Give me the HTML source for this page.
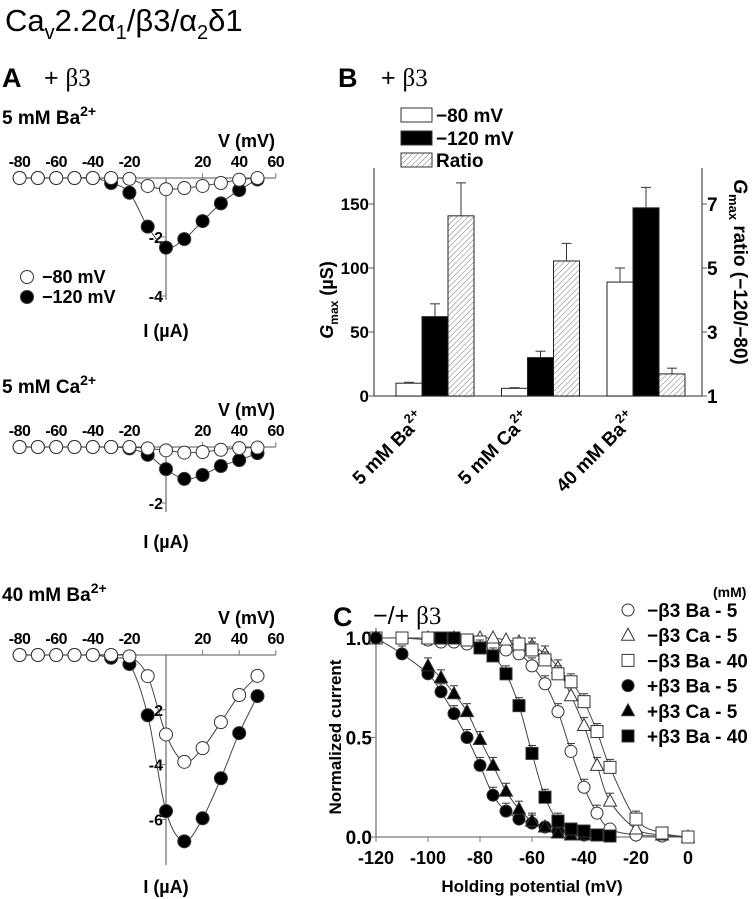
<!DOCTYPE html>
<html><head><meta charset="utf-8"><style>
body{margin:0;background:#fff}
svg{display:block;font-family:"Liberation Sans",Arial,sans-serif}
.b{font-weight:bold}
</style></head><body>
<svg id="fig" width="755" height="899" viewBox="0 0 755 899">
<defs>
<pattern id="hatch" patternUnits="userSpaceOnUse" width="4" height="4" patternTransform="rotate(45)">
<rect width="4" height="4" fill="#fff"/><line x1="0" y1="0" x2="0" y2="4" stroke="#777" stroke-width="1"/>
</pattern>
</defs>
<text x="5" y="31" font-size="31">Ca<tspan font-size="20" dy="8">v</tspan><tspan dy="-8">2.2α</tspan><tspan font-size="20" dy="8">1</tspan><tspan dy="-8">/β3/α</tspan><tspan font-size="20" dy="8">2</tspan><tspan dy="-8">δ1</tspan></text>
<text x="2" y="87" font-size="27" class="b">A</text>
<text x="44" y="86" font-size="25">+ <tspan font-family="Liberation Serif">β3</tspan></text>
<text x="338" y="87" font-size="27" class="b">B</text>
<text x="381" y="86" font-size="25">+ <tspan font-family="Liberation Serif">β3</tspan></text>
<text x="333" y="626" font-size="27" class="b">C</text>
<text x="373" y="624" font-size="25">−/+ <tspan font-family="Liberation Serif">β3</tspan></text>
<g id="gA"></g><g id="gB"></g><g id="gC"></g>
</svg>
<script>
const NS='http://www.w3.org/2000/svg';
function mk(parent,tag,attrs,txt){const e=document.createElementNS(NS,tag);for(const k in attrs)e.setAttribute(k,attrs[k]);if(txt!==undefined)e.textContent=txt;parent.appendChild(e);return e;}
function smooth(pts){if(pts.length<2)return'';let d='M'+pts[0][0]+','+pts[0][1];for(let i=0;i<pts.length-1;i++){const p0=pts[i-1]||pts[i],p1=pts[i],p2=pts[i+1],p3=pts[i+2]||p2;const c1x=p1[0]+(p2[0]-p0[0])/6,c1y=p1[1]+(p2[1]-p0[1])/6,c2x=p2[0]-(p3[0]-p1[0])/6,c2y=p2[1]-(p3[1]-p1[1])/6;d+=' C'+c1x+','+c1y+' '+c2x+','+c2y+' '+p2[0]+','+p2[1];}return d;}

/* ---------- Panel A data ---------- */
const ivVoltages=[-80,-70,-60,-50,-40,-30,-20,-10,0,10,20,30,40,50];
const ivBa5Open=[0,0,0,0,0,0,-0.03,-0.27,-0.38,-0.34,-0.27,-0.17,-0.06,0];
const ivBa5Filled=[0,0,0,0,0,-0.17,-0.5,-1.65,-2.36,-2.07,-1.46,-0.86,-0.41,-0.05];
const ivCa5Open=[0,0,0,0,0,0,0,-0.05,-0.12,-0.2,-0.18,-0.1,-0.04,-0.02];
const ivCa5Filled=[0,0,0,0,0,0,-0.05,-0.28,-0.79,-1.14,-1.0,-0.68,-0.47,-0.22];
const ivBa40Open=[0,0,0,0,0,0,-0.05,-0.77,-2.9,-3.9,-3.4,-2.45,-1.46,-0.76];
const ivBa40Filled=[0,0,0,0,0,-0.1,-0.33,-2.2,-5.7,-6.8,-5.96,-4.5,-2.85,-1.5];
const ivXTicks=[-80,-60,-40,-20,20,40,60];

const gA=document.getElementById('gA');
function ivPanel(cfg){
  const g=mk(gA,'g',{});
  
  
  const x=v=>166+v*1.83, y=i=>cfg.y0-i*cfg.k;
  const t=mk(g,'text',{x:2,y:cfg.y0-54,'font-size':19,class:'b'});
  
  
  t.innerHTML=cfg.title+'<tspan font-size="14" dy="-8">2+</tspan>';
  const vl=mk(g,'text',{x:218,y:cfg.y0-31,'font-size':18,class:'b'},'V (mV)');
  
  
  mk(g,'line',{x1:x(-80),y1:cfg.y0,x2:x(60),y2:cfg.y0,stroke:'#777','stroke-width':1.3});
  mk(g,'line',{x1:166,y1:cfg.y0,x2:166,y2:cfg.yEnd,stroke:'#777','stroke-width':1.3});
  ivXTicks.forEach(v=>{mk(g,'line',{x1:x(v),y1:cfg.y0,x2:x(v),y2:cfg.y0-5,stroke:'#777'});
    const tl=mk(g,'text',{x:x(v),y:cfg.y0-11,'font-size':16,class:'b','text-anchor':'middle','letter-spacing':'-0.5'},String(v));
    
    });
  cfg.yTicks.forEach(v=>{mk(g,'line',{x1:162,y1:y(v),x2:166,y2:y(v),stroke:'#777'});
    const tl=mk(g,'text',{x:163,y:y(v)+6,'font-size':16,class:'b','text-anchor':'end'},String(v));
    
    });
  const il=mk(g,'text',{x:166,y:cfg.iy,'font-size':18,class:'b','text-anchor':'middle'},'I (µA)');
  
  
  [[cfg.filled,'#000'],[cfg.open,'#fff']].forEach(([arr,fill])=>{
    const pts=ivVoltages.map((v,i)=>[x(v),y(arr[i])]);
    mk(g,'path',{d:smooth(pts),fill:'none',stroke:'#444','stroke-width':1});
    pts.forEach((p,i)=>{
      const c=mk(g,'circle',{cx:p[0],cy:p[1],r:6.5,fill:fill,stroke:'#333','stroke-width':1});
      
      
    });
  });
}
ivPanel({name:'iv-5mm-ba',title:'5 mM Ba',y0:178,k:29.5,yEnd:300,yTicks:[-2,-4],iy:337,open:ivBa5Open,filled:ivBa5Filled});
ivPanel({name:'iv-5mm-ca',title:'5 mM Ca',y0:447,k:28,yEnd:512,yTicks:[-2],iy:548,open:ivCa5Open,filled:ivCa5Filled});
ivPanel({name:'iv-40mm-ba',title:'40 mM Ba',y0:655,k:27.4,yEnd:865,yTicks:[-2,-4,-6],iy:893,open:ivBa40Open,filled:ivBa40Filled});
[[-80,'#fff',277],[-120,'#000',297]].forEach(([v,f,yy])=>{
  const c=mk(gA,'circle',{cx:27,cy:yy,r:6.5,fill:f,stroke:'#333'});
  
  
  const t=mk(gA,'text',{x:42,y:yy+6,'font-size':18,class:'b'},'−'+(-v)+' mV');
  
  
});

/* ---------- Panel B data ---------- */
const gmaxGroups=['5 mM Ba','5 mM Ca','40 mM Ba'];
const gmax80=[10,6,89];
const gmax80Err=[0.7,0.5,11];
const gmax120=[62,30,147];
const gmax120Err=[10,5,16];
const gmaxRatio=[6.63,5.22,1.69];
const gmaxRatioErr=[1.03,0.55,0.18];
const gmaxLeftTicks=[0,50,100,150];
const gmaxRightTicks=[1,3,5,7];

const gB=document.getElementById('gB');
const bL=374,bR=702,bY0=396;
const yl=v=>bY0-v*1.28, yr=v=>bY0-(v-1)*32;
const groupX=i=>396+i*105.5;
mk(gB,'line',{x1:bL,y1:168,x2:bL,y2:bY0,stroke:'#555','stroke-width':1.3});
mk(gB,'line',{x1:bR,y1:168,x2:bR,y2:bY0,stroke:'#555','stroke-width':1.3});
mk(gB,'line',{x1:bL,y1:bY0,x2:bR,y2:bY0,stroke:'#555','stroke-width':1.3});
gmaxLeftTicks.forEach(v=>{mk(gB,'line',{x1:bL-5,y1:yl(v),x2:bL,y2:yl(v),stroke:'#555'});
  const t=mk(gB,'text',{x:bL-5,y:yl(v)+6,'font-size':17,class:'b','text-anchor':'end'},String(v));
  
  });
gmaxRightTicks.forEach(v=>{mk(gB,'line',{x1:bR,y1:yr(v),x2:bR+5,y2:yr(v),stroke:'#555'});
  const t=mk(gB,'text',{x:bR+5,y:yr(v)+7,'font-size':19,class:'b'},String(v));
  
  });
function bar(x,top,errTop,fill,name){
  const r=mk(gB,'rect',{x:x,y:top,width:26,height:bY0-top,fill:fill,stroke:'#222','stroke-width':1});
  
  
  mk(gB,'line',{x1:x+13,y1:top,x2:x+13,y2:errTop,stroke:'#333'});
  mk(gB,'line',{x1:x+8,y1:errTop,x2:x+18,y2:errTop,stroke:'#333'});
}
gmaxGroups.forEach((gname,i)=>{
  const x0=groupX(i);
  bar(x0,yl(gmax80[i]),yl(gmax80[i]+gmax80Err[i]),'#fff','bar-minus80-'+i);
  bar(x0+26,yl(gmax120[i]),yl(gmax120[i]+gmax120Err[i]),'#000','bar-minus120-'+i);
  bar(x0+52,yr(gmaxRatio[i]),yr(gmaxRatio[i]+gmaxRatioErr[i]),'url(#hatch)','bar-ratio-'+i);
  const cx=x0+30,cy=420;
  const t=mk(gB,'text',{x:cx,y:cy,'font-size':19,class:'b','text-anchor':'end',transform:'rotate(-45 '+cx+' '+cy+')'});
  
  
  t.innerHTML=gname+'<tspan font-size="13" dy="-9">2+</tspan>';
});
const ylt=mk(gB,'text',{x:0,y:0,'font-size':18,class:'b','text-anchor':'middle',transform:'translate(333 300) rotate(-90)'});


ylt.innerHTML='<tspan font-style="italic">G</tspan><tspan font-size="12" dy="5">max</tspan><tspan dy="-5"> (µS)</tspan>';
const yrt=mk(gB,'text',{x:0,y:0,'font-size':19,class:'b','text-anchor':'middle',transform:'translate(734 272) rotate(90)'});


yrt.innerHTML='<tspan font-style="italic">G</tspan><tspan font-size="13" dy="5">max</tspan><tspan dy="-5"> ratio (−120/−80)</tspan>';
[['#fff','−80 mV',115],['#000','−120 mV',138],['url(#hatch)','Ratio',160]].forEach(([f,l,yy])=>{
  const r=mk(gB,'rect',{x:401,y:yy-7,width:31,height:14,fill:f,stroke:'#333'});
  
  
  const t=mk(gB,'text',{x:436,y:yy+7,'font-size':19,class:'b'},l);
  
  
});

/* ---------- Panel C data ---------- */
const cX_mBa5=[-120,-110,-100,-95,-90,-85,-80,-75,-70,-65,-60,-55,-50,-45,-40,-35,-30,-20,-10,0];
const cY_mBa5=[1,1,0.99,0.98,0.98,0.97,0.97,0.96,0.94,0.92,0.86,0.77,0.63,0.43,0.25,0.12,0.04,0.01,0.005,0];
const cX_mCa5=[-120,-100,-90,-80,-75,-70,-65,-60,-55,-50,-45,-40,-35,-30,-20,-10,0];
const cY_mCa5=[1,1,1,1,1,0.99,0.98,0.96,0.92,0.85,0.71,0.56,0.36,0.18,0.04,0.01,0];
const cX_mBa40=[-120,-110,-100,-95,-90,-85,-80,-65,-60,-55,-50,-45,-40,-35,-30,-20,-10,0];
const cY_mBa40=[1,1,1,1,1,0.99,0.98,0.97,0.94,0.89,0.82,0.78,0.68,0.53,0.35,0.09,0.02,0];
const cX_pBa5=[-120,-110,-100,-95,-90,-85,-80,-75,-70,-65,-60,-55,-50,-45,-40];
const cY_pBa5=[1,0.92,0.82,0.73,0.62,0.5,0.36,0.21,0.13,0.09,0.07,0.05,0.03,0.02,0.01];
const cX_pCa5=[-100,-95,-90,-85,-80,-75,-70,-65,-60,-55,-50,-45,-40];
const cY_pCa5=[0.86,0.8,0.72,0.63,0.49,0.36,0.23,0.14,0.08,0.05,0.02,0.01,0.01];
const cX_pBa40=[-95,-90,-80,-75,-70,-65,-60,-55,-50,-45,-40,-35,-30];
const cY_pBa40=[1,1,0.95,0.91,0.82,0.66,0.42,0.2,0.08,0.04,0.03,0.01,0.005];
const cErr=0.04;
const cXTicks=[-120,-100,-80,-60,-40,-20,0];
const cYTicks=[0,0.5,1.0];
const cLegend=['−β3  Ba - 5','−β3  Ca - 5','−β3  Ba - 40','+β3  Ba - 5','+β3  Ca - 5','+β3  Ba - 40'];

const gC=document.getElementById('gC');
const cx=v=>376+(v+120)*2.6, cy=v=>837-v*199;
mk(gC,'line',{x1:376,y1:628,x2:376,y2:837,stroke:'#777','stroke-width':1.3});
mk(gC,'line',{x1:376,y1:837,x2:cx(0),y2:837,stroke:'#777','stroke-width':1.3});
cXTicks.forEach(v=>{mk(gC,'line',{x1:cx(v),y1:837,x2:cx(v),y2:842,stroke:'#777'});
  const t=mk(gC,'text',{x:cx(v),y:864,'font-size':18,class:'b','text-anchor':'middle'},String(v));
  
  });
cYTicks.forEach(v=>{mk(gC,'line',{x1:371,y1:cy(v),x2:376,y2:cy(v),stroke:'#777'});
  const t=mk(gC,'text',{x:372,y:cy(v)+7,'font-size':19,class:'b','text-anchor':'end'},v.toFixed(1));
  
  });
const cxt=mk(gC,'text',{x:532,y:892,'font-size':17,class:'b','text-anchor':'middle'},'Holding potential (mV)');


const cyt=mk(gC,'text',{x:0,y:0,'font-size':17,class:'b','text-anchor':'middle',transform:'translate(341 737) rotate(-90)'},'Normalized current');


const mmt=mk(gC,'text',{x:713,y:597,'font-size':14,class:'b'},'(mM)');


function sym(g,shape,fill,x,y){
  if(shape==='c')return mk(g,'circle',{cx:x,cy:y,r:6,fill:fill,stroke:'#333'});
  if(shape==='s')return mk(g,'rect',{x:x-6,y:y-6,width:12,height:12,fill:fill,stroke:'#333'});
  return mk(g,'polygon',{points:(x)+','+(y-7)+' '+(x+6.5)+','+(y+5)+' '+(x-6.5)+','+(y+5),fill:fill,stroke:'#333'});
}
const series=[[cX_mBa5,cY_mBa5,'c','#fff'],[cX_mCa5,cY_mCa5,'t','#fff'],[cX_mBa40,cY_mBa40,'s','#fff'],[cX_pBa5,cY_pBa5,'c','#000'],[cX_pCa5,cY_pCa5,'t','#000'],[cX_pBa40,cY_pBa40,'s','#000']];
series.forEach(([xs,ys])=>{
  const pts=xs.map((v,i)=>[cx(v),cy(ys[i])]);
  mk(gC,'path',{d:smooth(pts),fill:'none',stroke:'#444','stroke-width':1});
});
series.forEach(([xs,ys,sh,f],si)=>{
  xs.forEach((v,i)=>{
    const X=cx(v),Y=cy(ys[i]);
    if(ys[i]>0.05&&ys[i]<0.97){mk(gC,'line',{x1:X,y1:Y,x2:X,y2:cy(ys[i]+cErr),stroke:'#333'});mk(gC,'line',{x1:X-4,y1:cy(ys[i]+cErr),x2:X+4,y2:cy(ys[i]+cErr),stroke:'#333'});}
    const s=sym(gC,sh,f,X,Y);
    
    
  });
  const ly=610+si*25.2;
  const ls=sym(gC,sh,f,628,ly);
  
  
  const lt=mk(gC,'text',{x:647,y:ly+7,'font-size':19,class:'b','xml:space':'preserve'},cLegend[si]);
  
  
});
</script>
</body></html>
